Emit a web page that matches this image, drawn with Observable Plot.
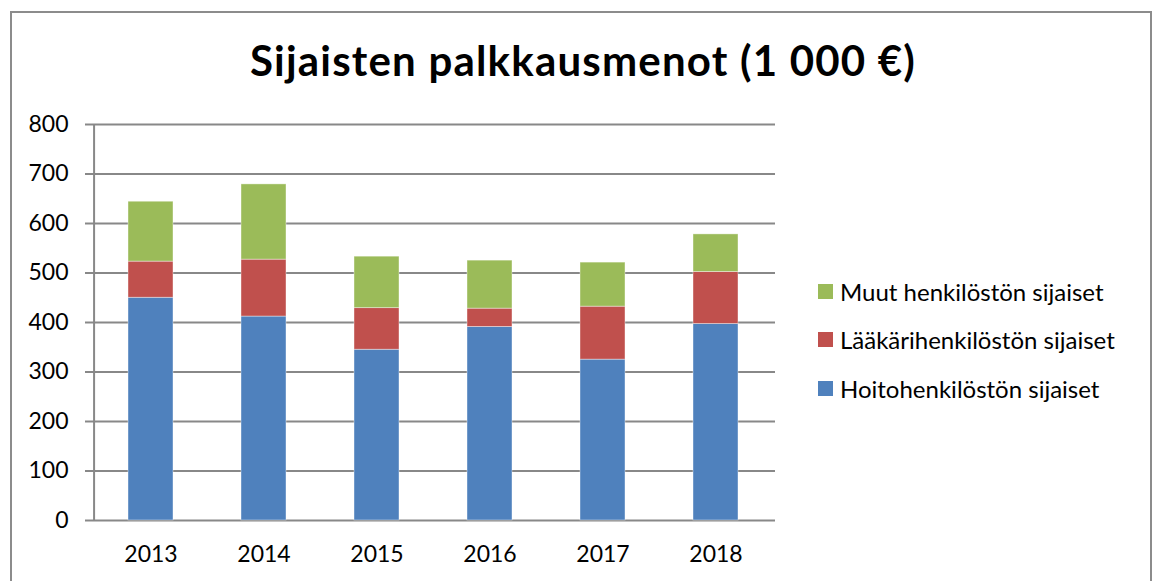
<!DOCTYPE html>
<html>
<head>
<meta charset="utf-8">
<script src="https://cdn.jsdelivr.net/npm/d3@7"></script>
<script src="https://cdn.jsdelivr.net/npm/@observablehq/plot@0.6"></script>
<style>
  html, body { margin: 0; padding: 0; background: #fff; overflow: hidden; }
  #wrap { position: relative; width: 1162px; height: 581px; font-family: Lato, "Open Sans", sans-serif; }
  #frame { position: absolute; left: 10px; top: 11px; width: 1142px; height: 620px; border: 2px solid #8c8c8c; box-sizing: border-box; }
  #title { position: absolute; left: 0; top: 39px; width: 1166px; text-align: center; font-weight: bold; font-size: 42px; letter-spacing: 1.2px; color: #000; line-height: 1; }
  #chart { position: absolute; left: 0; top: 0; }
  #legend { position: absolute; left: 818px; top: 279px; font-size: 24px; color: #000; }
  .item { display: flex; align-items: center; height: 24px; margin-bottom: 24.5px; white-space: nowrap; }
  .sw { width: 15px; height: 15px; margin-right: 7px; flex: none; }
</style>
</head>
<body>
<div id="wrap">
  <div id="frame"></div>
  <div id="chart"></div>
  <div id="title">Sijaisten palkkausmenot (1 000 €)</div>
  <div id="legend"></div>
</div>
<script>
const years = ["2013", "2014", "2015", "2016", "2017", "2018"];
const seriesNames = ["Hoitohenkilöstön sijaiset", "Lääkärihenkilöstön sijaiset", "Muut henkilöstön sijaiset"];
const hoito = [450, 412, 345, 391, 325, 397];
const laakari = [73, 115, 84, 37, 107, 105];
const muut = [121, 152, 104, 97, 89, 76];
const colors = ["#4F81BD", "#C0504D", "#9BBB59"];
const yTicks = [0, 100, 200, 300, 400, 500, 600, 700, 800];

const seriesValues = [hoito, laakari, muut];
const rows = [];
years.forEach((yr, i) => {
  seriesNames.forEach((s, j) => rows.push({year: yr, series: s, value: seriesValues[j][i]}));
});

const W = 1162, H = 581, mL = 92, mR = 387, mT = 124, mB = 61;
const step = (W - mL - mR) / years.length;

const chart = Plot.plot({
  width: W,
  height: H,
  marginLeft: mL,
  marginRight: mR,
  marginTop: mT,
  marginBottom: mB,
  style: {fontFamily: "Lato, 'Open Sans', sans-serif", fontSize: "23px", color: "#000", background: "transparent"},
  x: {domain: years, paddingInner: 0.6, paddingOuter: 0.3, label: null},
  y: {domain: [0, 800], label: null},
  color: {domain: seriesNames, range: colors},
  marks: [
    Plot.gridY(yTicks, {stroke: "#888", strokeOpacity: 1, strokeWidth: 2}),
    Plot.barY(rows, {x: "year", y: "value", fill: "series", stroke: "#fff", strokeOpacity: 0.5, strokeWidth: 0.8}),
    Plot.ruleX([years[0]], {dx: -step / 2, stroke: "#888", strokeWidth: 2}),
    Plot.axisY(yTicks, {tickSize: 7, tickPadding: 17, stroke: "#888", strokeWidth: 2, fill: "#000", fontSize: 23}),
    Plot.axisX({tickSize: 0, tickPadding: 25, fill: "#000", fontSize: 23}),
  ]
});
document.getElementById("chart").appendChild(chart);

const legend = document.getElementById("legend");
[2, 1, 0].forEach(j => {
  const it = document.createElement("div");
  it.className = "item";
  const sw = document.createElement("span");
  sw.className = "sw";
  sw.style.background = colors[j];
  const tx = document.createElement("span");
  tx.textContent = seriesNames[j];
  it.appendChild(sw);
  it.appendChild(tx);
  legend.appendChild(it);
});
</script>
</body>
</html>
